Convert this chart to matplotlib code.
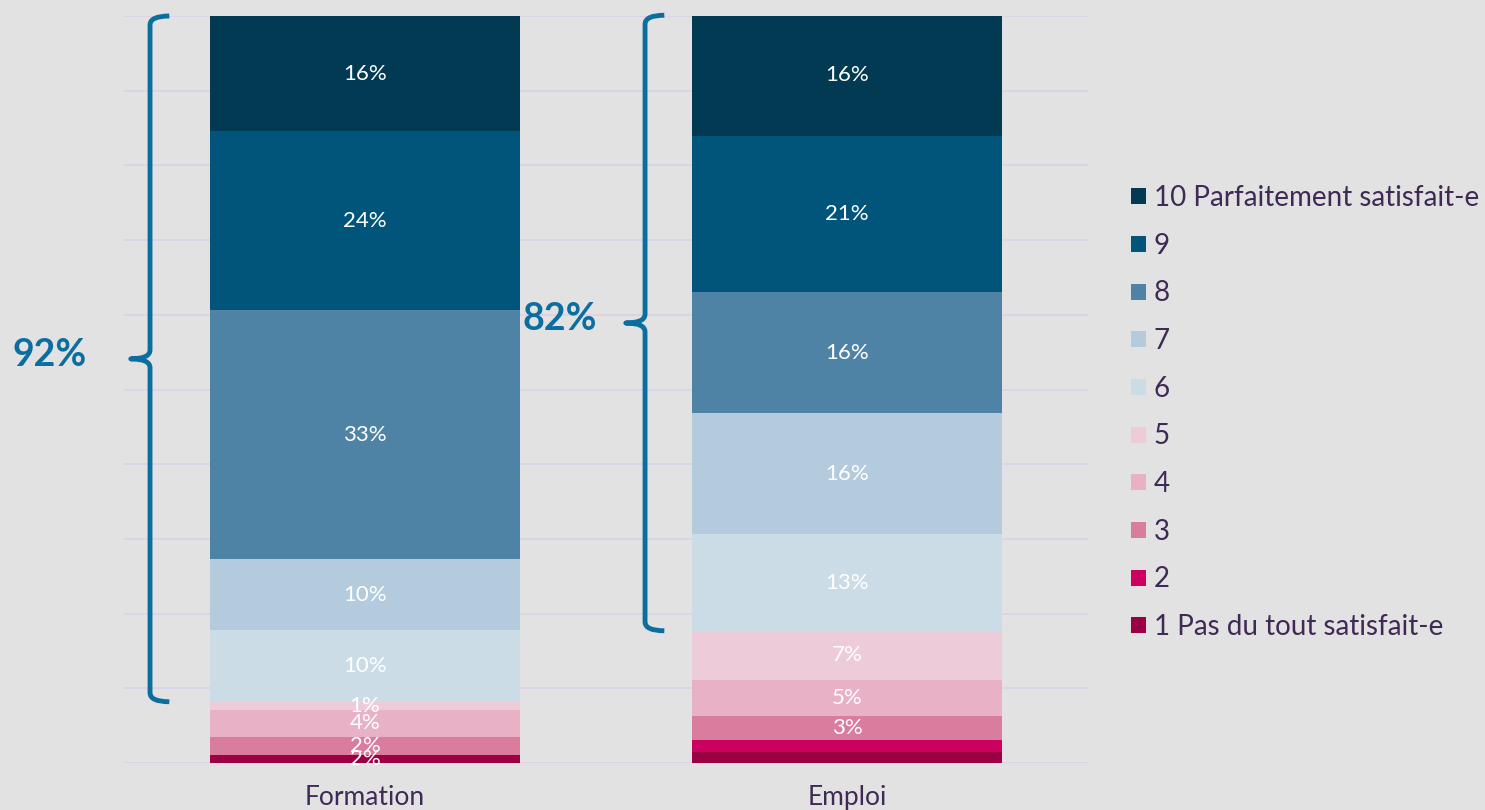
import matplotlib
matplotlib.use("Agg")
import matplotlib.pyplot as plt
import numpy as np
from matplotlib.path import Path
from matplotlib.patches import PathPatch, Patch

# ---- data ----
categories = ["Formation", "Emploi"]
levels = ["1 Pas du tout satisfait-e", "2", "3", "4", "5", "6", "7", "8", "9",
          "10 Parfaitement satisfait-e"]
formation = [1.1, 0.0, 2.4, 3.6, 1.1, 9.6, 9.5, 33.3, 24.0, 15.4]
emploi = [1.5, 1.6, 3.2, 4.8, 6.6, 12.9, 16.2, 16.2, 21.0, 16.1]
formation_labels = ["2%", "", "2%", "4%", "1%", "10%", "10%", "33%", "24%", "16%"]
emploi_labels = ["", "", "3%", "5%", "7%", "13%", "16%", "16%", "21%", "16%"]
satisfied_totals = ["92%", "82%"]   # levels 6-10
colors = ["#9b0045", "#cc005f", "#d97c9e", "#e8b1c5", "#eecbd9",
          "#cbdce6", "#b3cbdc", "#4f83a6", "#02557a", "#013a52"]

TEXT = "#3f2a56"
BRACE = "#0b6e9f"
plt.rcParams['font.family'] = ['Lato', 'DejaVu Sans']

fig = plt.figure(figsize=(14.85, 8.10), dpi=100)
fig.patch.set_facecolor("#e2e2e2")
ax = fig.add_axes([124/1485, 47/810, 964/1485, 747/810])
ax.set_facecolor("none")
ax.set_xlim(-0.5, 1.5)
ax.set_ylim(0, 100)
for s in ax.spines.values():
    s.set_visible(False)
ax.set_yticks(np.arange(0, 101, 10))
ax.yaxis.grid(True, color="#ddd0e8", lw=1.2)
ax.set_axisbelow(True)
ax.tick_params(axis="y", left=False, labelleft=False)
ax.tick_params(axis="x", bottom=False, pad=12)
x = np.arange(len(categories))
ax.set_xticks(x)
ax.set_xticklabels(categories, fontsize=19, color=TEXT)

series = [formation, emploi]
labels = [formation_labels, emploi_labels]
width = 0.643
handles = []
for i, lev in enumerate(levels):
    vals = [s[i] for s in series]
    bottoms = [sum(s[:i]) for s in series]
    ax.bar(x, vals, bottom=bottoms, width=width, color=colors[i], edgecolor="none")
    for j in range(len(categories)):
        lab = labels[j][i]
        if lab:
            ax.text(x[j], bottoms[j] + vals[j] / 2, lab, ha="center", va="center",
                    color="white", fontsize=16)
    handles.append(Patch(facecolor=colors[i], edgecolor="none", label=lev))

# braces for levels 6-10
def brace(ax, xb, y0, y1, ymid, dx=0.04, r=1.2):
    verts = [(xb + dx, y1), (xb, y1), (xb, y1 - r),
             (xb, ymid + r), (xb, ymid), (xb - dx, ymid),
             (xb, ymid), (xb, ymid - r),
             (xb, y0 + r), (xb, y0), (xb + dx, y0)]
    codes = [Path.MOVETO, Path.CURVE3, Path.CURVE3,
             Path.LINETO, Path.CURVE3, Path.CURVE3,
             Path.CURVE3, Path.CURVE3,
             Path.LINETO, Path.CURVE3, Path.CURVE3]
    ax.add_patch(PathPatch(Path(verts, codes), fill=False, ec=BRACE, lw=3.5,
                           clip_on=False, capstyle="butt", joinstyle="round"))

brace_x = [-0.446, 0.581]
total_x = [-0.6535, 0.4046]
for j, s in enumerate(series):
    y0 = sum(s[:5])
    y1 = sum(s)
    ymid = (y0 + y1) / 2
    brace(ax, brace_x[j], y0, y1, ymid)
    ax.text(total_x[j], ymid + 0.5, satisfied_totals[j], ha="center", va="center",
            color=BRACE, fontsize=27, fontweight="bold", clip_on=False)

leg = fig.legend(handles=handles[::-1], loc="upper left",
                 bbox_to_anchor=(1120/1485, 1 - 174/810), frameon=False,
                 fontsize=20, labelcolor=TEXT, handlelength=0.52, handleheight=0.52,
                 handletextpad=0.3, labelspacing=0.78, borderaxespad=0)

fig.savefig("out.png", dpi=100, facecolor=fig.get_facecolor())
